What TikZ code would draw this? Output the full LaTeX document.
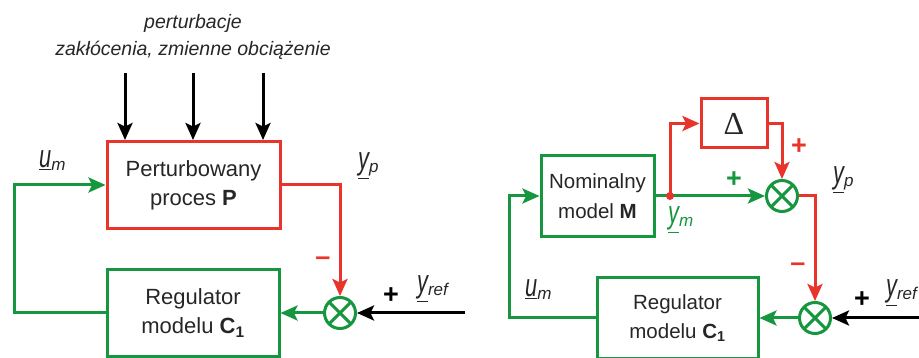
\documentclass[tikz,border=0pt]{standalone}
\usepackage{fontspec}
\setmainfont{Liberation Sans}
\newfontfamily\deltafont{Liberation Serif}
\newfontfamily\lblfont[FakeStretch=0.68]{Liberation Sans}
\usetikzlibrary{arrows.meta}
\definecolor{cred}{RGB}{232,52,42}
\definecolor{cgreen}{RGB}{22,150,62}
\newcommand{\sigl}[2]{{\fontsize{32}{32}\lblfont\itshape\underline{#1}}\raisebox{-2.5pt}{\fontsize{17}{17}\selectfont\itshape #2}}
\begin{document}
\begin{tikzpicture}[x=1pt,y=-1pt,
  blk/.style={draw, line width=3pt, inner sep=0pt, align=center, font=\fontsize{22}{29}\selectfont, text=black!85},
  redbox/.style={blk, draw=cred},
  greenbox/.style={blk, draw=cgreen},
  sumnode/.style={circle, draw=cgreen, line width=3pt, minimum size=31pt, inner sep=0pt,
    path picture={\draw[cgreen,line width=3pt] (path picture bounding box.north west) -- (path picture bounding box.south east) (path picture bounding box.north east) -- (path picture bounding box.south west);}},
  wire/.style={line width=3pt},
  arr/.style={wire, -{Stealth[length=17pt,width=15pt,inset=3.5pt]}},
  lbl/.style={text=black!85, inner sep=0pt, anchor=base west},
  sgn/.style={font=\fontsize{27}{28}\selectfont\bfseries, inner sep=0pt},
  note/.style={font=\fontsize{19.5}{24}\selectfont\itshape, text=black!85, inner sep=0pt}
]
\clip (0,0) rectangle (919,358);
\useasboundingbox (0,0) rectangle (919,358);

% ---------- left diagram ----------
\node[note] (t1) at (193,23) {perturbacje};
\node[note] (t2) at (193,50) {zakłócenia, zmienne obciążenie};

\node[redbox, minimum width=173pt, minimum height=87pt] (P) at (193.5,185) {Perturbowany\\proces \textbf{P}};
\node[greenbox, minimum width=172pt, minimum height=86pt] (CL) at (193,313) {Regulator\\modelu \textbf{C\textsubscript{1}}};
\node[sumnode] (SL) at (340,313) {};

\coordinate (d1) at (125,73);
\coordinate (d2) at (193,73);
\coordinate (d3) at (263,73);
\draw[arr] (d1) -- (d1 |- P.north);
\draw[arr] (d2) -- (d2 |- P.north);
\draw[arr] (d3) -- (d3 |- P.north);

\draw[arr, cred] (P.east) -| (SL.north);
\coordinate (rinL) at (465,313);
\draw[arr] (rinL) -- (SL.east);
\draw[arr, cgreen] (SL.west) -- (CL.east);
\coordinate (lcL) at (14,313);
\draw[arr, cgreen] (CL.west) -- (lcL) |- (P.west);

\node[lbl] (umL) at (39,168) {\sigl{u}{m}};
\node[lbl] (ypL) at (358,170) {\sigl{y}{p}};
\node[sgn, text=cred] (mL) at (323,261) {–};
\node[sgn] (pL) at (391,296) {+};
\node[lbl] (yrL) at (417,293) {\sigl{y}{ref}};

% ---------- right diagram ----------
\node[greenbox, minimum width=113pt, minimum height=81pt, font=\fontsize{20.5}{30}\selectfont] (M) at (597.5,196) {Nominalny\\model \textbf{M}};
\node[redbox, minimum width=66pt, minimum height=49pt, font=\fontsize{32}{32}\selectfont\deltafont] (D) at (734,123.5) {Δ};
\node[sumnode] (S1) at (782,196) {};
\node[sumnode] (S2) at (815,318) {};
\node[greenbox, minimum width=161pt, minimum height=80pt, font=\fontsize{20.5}{29}\selectfont] (CR) at (677.5,318) {Regulator\\modelu \textbf{C\textsubscript{1}}};

\coordinate (dot) at (670,196);
\draw[arr, cgreen] (M.east) -- (S1.west);
\draw[arr, cred] (dot) |- (D.west);
\fill[cred] (dot) circle (4pt);
\draw[arr, cred] (D.east) -| (S1.north);
\draw[arr, cred] (S1.east) -| (S2.north);
\coordinate (rinR) at (930,318);
\draw[arr] (rinR) -- (S2.east);
\draw[arr, cgreen] (S2.west) -- (CR.east);
\coordinate (lcR) at (509,318);
\draw[arr, cgreen] (CR.west) -- (lcR) |- (M.west);

\node[sgn, text=cgreen] (pG) at (734,180) {+};
\node[sgn, text=cred] (pR) at (799,147) {+};
\node[lbl, text=cgreen] (ym) at (668,224) {\sigl{y}{m}};
\node[lbl] (ypR) at (833,184) {\sigl{y}{p}};
\node[sgn, text=cred] (mR) at (798,267) {–};
\node[lbl] (umR) at (525,297) {\sigl{u}{m}};
\node[sgn] (pB) at (862,300) {+};
\node[lbl] (yrR) at (886,297) {\sigl{y}{ref}};
\end{tikzpicture}
\end{document}
